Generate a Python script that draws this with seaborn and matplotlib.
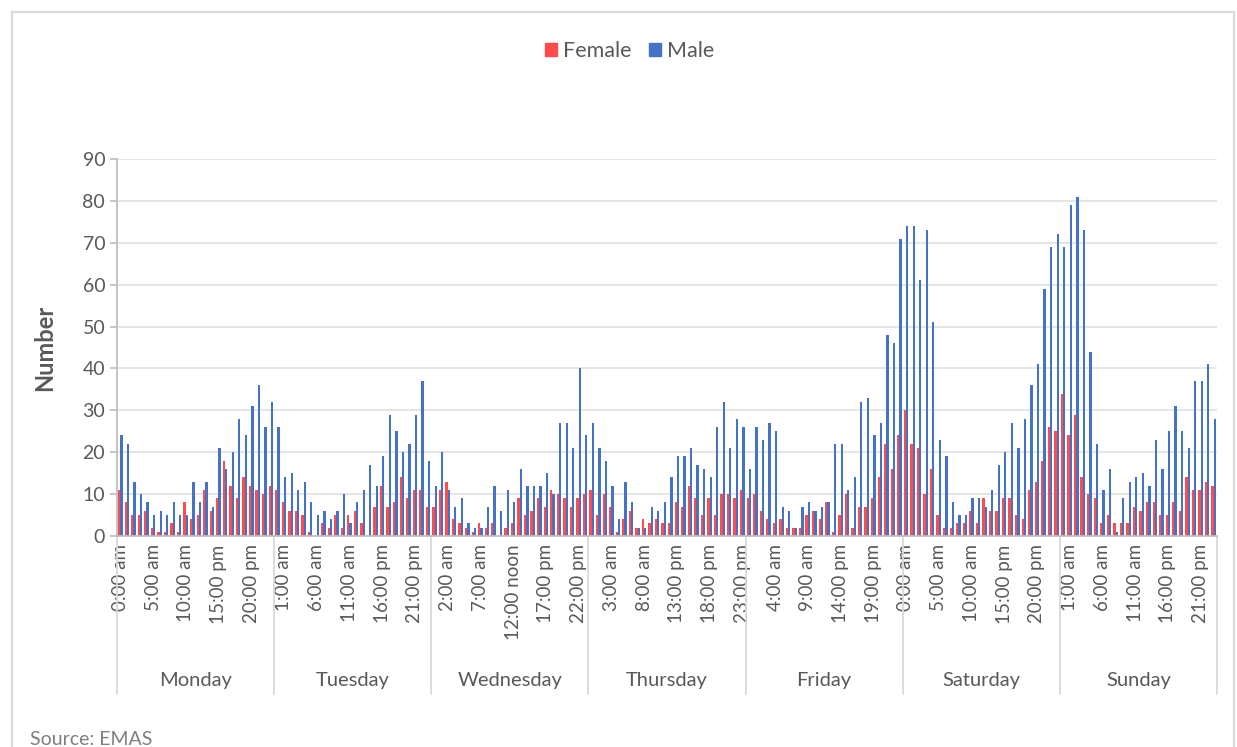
import pandas as pd
import seaborn as sns
import matplotlib.pyplot as plt
from matplotlib.patches import Patch, Rectangle

days = ["Monday", "Tuesday", "Wednesday", "Thursday", "Friday", "Saturday", "Sunday"]
hours = list(range(24))

# counts per hour, one row per day (Mon..Sun)
female = [
    11, 8, 5, 5, 6, 2, 1, 1, 3, 1, 8, 4, 5, 11, 6, 9, 18, 12, 9, 14, 12, 11, 10, 12,
    11, 8, 6, 6, 5, 1, 0, 3, 2, 5, 2, 5, 6, 3, 0, 7, 12, 7, 8, 14, 9, 11, 11, 7,
    7, 11, 13, 4, 3, 2, 1, 3, 2, 3, 0, 2, 3, 9, 5, 6, 9, 7, 11, 10, 9, 7, 9, 10,
    11, 5, 10, 7, 1, 4, 6, 2, 4, 3, 4, 3, 3, 8, 7, 12, 9, 5, 9, 5, 10, 10, 9, 11,
    9, 10, 6, 4, 3, 4, 2, 2, 2, 5, 6, 4, 8, 1, 5, 10, 2, 7, 7, 9, 14, 22, 16, 24,
    30, 22, 21, 10, 16, 5, 2, 2, 3, 3, 6, 3, 9, 6, 6, 9, 9, 5, 4, 11, 13, 18, 26, 25,
    34, 24, 29, 14, 10, 9, 3, 5, 3, 3, 3, 7, 6, 8, 8, 5, 5, 8, 6, 14, 11, 11, 13, 12,
]
male = [
    24, 22, 13, 10, 8, 5, 6, 5, 8, 5, 5, 13, 8, 13, 7, 21, 16, 20, 28, 24, 31, 36, 26, 32,
    26, 14, 15, 11, 13, 8, 5, 6, 4, 6, 10, 3, 8, 11, 17, 12, 19, 29, 25, 20, 22, 29, 37, 18,
    12, 20, 11, 7, 9, 3, 2, 2, 7, 12, 6, 11, 8, 16, 12, 12, 12, 15, 10, 27, 27, 21, 40, 24,
    27, 21, 18, 12, 4, 13, 8, 2, 2, 7, 6, 8, 14, 19, 19, 21, 17, 16, 14, 26, 32, 21, 28, 26,
    16, 26, 23, 27, 25, 7, 6, 2, 7, 8, 6, 7, 8, 22, 22, 11, 14, 32, 33, 24, 27, 48, 46, 71,
    74, 74, 61, 73, 51, 23, 19, 8, 5, 5, 9, 9, 7, 11, 17, 20, 27, 21, 28, 36, 41, 59, 69, 72,
    69, 79, 81, 73, 44, 22, 11, 16, 1, 9, 13, 14, 15, 12, 23, 16, 25, 31, 25, 21, 37, 37, 41, 28,
]

colors = {"Female": "#FF4B4B", "Male": "#4472C4"}
grey = "#595959"

slots = [f"{d[:3]} {h}" for d in days for h in hours]
df = pd.DataFrame({
    "slot": slots * 2,
    "count": female + male,
    "sex": ["Female"] * len(slots) + ["Male"] * len(slots),
})


def hour_label(h):
    if h < 12:
        return f"{h}:00 am"
    if h == 12:
        return "12:00 noon"
    return f"{h}:00 pm"


sns.set_theme(style="white")
plt.rcParams['font.family'] = ['Lato', 'DejaVu Sans']

fig = plt.figure(figsize=(12.37, 7.47), dpi=100)
ax = fig.add_axes([117 / 1237, 1 - 536 / 747, 1100 / 1237, 377 / 747])

sns.barplot(data=df, x="slot", y="count", hue="sex", order=slots,
            hue_order=["Female", "Male"], palette=colors, width=0.7,
            saturation=1, linewidth=0, errorbar=None, legend=False, ax=ax)

# x axis: hour labels every 5 slots, day names below
tick_pos = list(range(0, len(slots), 5))
ax.set_xticks(tick_pos)
ax.set_xticklabels([hour_label(p % 24) for p in tick_pos], rotation=90,
                   fontsize=13.5, color=grey)
ax.tick_params(axis="x", length=0, pad=6)
ax.set_xlim(-0.5, len(slots) - 0.5)

trans = ax.get_xaxis_transform()
for i, day in enumerate(days):
    ax.text(24 * i + 11.5, -0.383, day, transform=trans, ha="center",
            va="center", fontsize=14.5, color=grey)
for i in range(len(days) + 1):
    ax.plot([24 * i - 0.5] * 2, [0, -0.42], transform=trans,
            color="#d9d9d9", lw=1.3, clip_on=False)

# y axis
ax.set_ylim(0, 90)
ax.set_yticks(range(0, 91, 10))
ax.tick_params(axis="y", labelsize=14, labelcolor=grey, length=5,
               color="#bfbfbf", direction="out", left=True)
ax.yaxis.grid(True, color="#e3e3e3", linewidth=1.3)
ax.set_axisbelow(True)
ax.set_xlabel("")
ax.set_ylabel("")
for side in ["top", "right"]:
    ax.spines[side].set_visible(False)
for side in ["left", "bottom"]:
    ax.spines[side].set_color("#bfbfbf")
    ax.spines[side].set_linewidth(1.3)

fig.text(45 / 1237, 1 - 348 / 747, "Number", rotation=90, ha="center",
         va="center", fontsize=17, fontweight="bold", color=grey)

fig.legend(handles=[Patch(color=colors["Female"], label="Female"),
                    Patch(color=colors["Male"], label="Male")],
           loc="center", bbox_to_anchor=(0.509, 1 - 51 / 747), ncol=2,
           frameon=False, fontsize=15.5, handlelength=0.55, handleheight=0.55,
           handletextpad=0.3, columnspacing=0.8, labelcolor=grey)

fig.text(30 / 1237, 1 - 731 / 747, "Source: EMAS", va="top", fontsize=14,
         color="#7f7f7f")

# chart frame
fig.patches.append(Rectangle((12 / 1237, -0.1), (1234 - 12) / 1237,
                             1 - 12 / 747 + 0.1, transform=fig.transFigure,
                             fill=False, edgecolor="#d9d9d9", lw=1.5))

fig.savefig("out.png", dpi=100)
plt.close()
